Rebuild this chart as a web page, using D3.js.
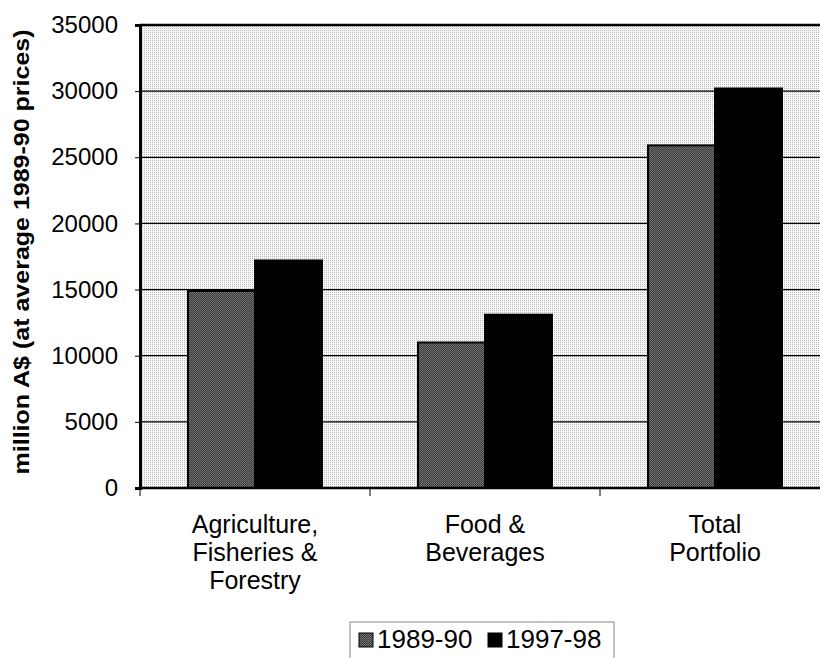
<!DOCTYPE html>
<meta charset="utf-8">
<script src="https://d3js.org/d3.v7.min.js"></script>
<style>
  body { margin: 0; background: #fff; }
  text { font-family: Arial, "Liberation Sans", sans-serif; }
</style>
<div id="my_dataviz"></div>
<script>
  // data
  var categories = [["Agriculture,", "Fisheries &", "Forestry"], ["Food &", "Beverages"], ["Total", "Portfolio"]];
  var seriesNames = ["1989-90", "1997-98"];
  var values8990 = [14900, 11000, 25900];
  var values9798 = [17200, 13100, 30200];
  var yTicks = [0, 5000, 10000, 15000, 20000, 25000, 30000, 35000];

  var W = 820, H = 658;
  var plotLeft = 140, plotTop = 25, plotRight = 830, plotBottom = 488;

  var svg = d3.select("#my_dataviz")
    .append("svg")
    .attr("width", W)
    .attr("height", H);

  // halftone-like patterns
  var defs = svg.append("defs");
  var bg = defs.append("pattern").attr("id", "bgdots")
    .attr("width", 2).attr("height", 2).attr("patternUnits", "userSpaceOnUse");
  bg.append("rect").attr("width", 2).attr("height", 2).attr("fill", "#f6f6f6");
  bg.append("rect").attr("width", 1).attr("height", 1).attr("fill", "#bcbcbc");

  var gp = defs.append("pattern").attr("id", "graydots")
    .attr("width", 2).attr("height", 2).attr("patternUnits", "userSpaceOnUse");
  gp.append("rect").attr("width", 2).attr("height", 2).attr("fill", "#3a3a3a");
  gp.append("rect").attr("width", 1).attr("height", 1).attr("fill", "#7a7a7a");
  gp.append("rect").attr("x", 1).attr("y", 1).attr("width", 1).attr("height", 1).attr("fill", "#6a6a6a");

  var data = categories.map(function(c, i) {
    return { cat: i, vals: [values8990[i], values9798[i]] };
  });

  var x0 = d3.scaleBand()
    .domain(d3.range(categories.length))
    .range([plotLeft, plotRight]);

  var x1 = d3.scaleBand()
    .domain([0, 1])
    .range([48, x0.bandwidth() - 48]);

  var y = d3.scaleLinear()
    .domain([0, 35000])
    .range([plotBottom, plotTop]);

  // plot background
  svg.append("rect")
    .attr("x", plotLeft).attr("y", plotTop)
    .attr("width", plotRight - plotLeft).attr("height", plotBottom - plotTop)
    .attr("fill", "url(#bgdots)");

  // gridlines
  svg.append("g")
    .selectAll("line")
    .data(yTicks.slice(1))
    .join("line")
    .attr("x1", plotLeft).attr("x2", plotRight)
    .attr("y1", function(d) { return y(d); })
    .attr("y2", function(d) { return y(d); })
    .attr("stroke", "#000")
    .attr("stroke-width", function(d) { return d === 35000 ? 2.5 : 1.2; });

  // bars
  var colors = ["url(#graydots)", "#000"];
  svg.append("g")
    .selectAll("g")
    .data(data)
    .join("g")
    .attr("transform", function(d) { return "translate(" + x0(d.cat) + ",0)"; })
    .selectAll("rect")
    .data(function(d) { return d.vals.map(function(v, j) { return { j: j, v: v }; }); })
    .join("rect")
    .attr("x", function(d) { return x1(d.j); })
    .attr("width", x1.bandwidth())
    .attr("y", function(d) { return y(d.v); })
    .attr("height", function(d) { return y(0) - y(d.v); })
    .attr("fill", function(d) { return colors[d.j]; })
    .attr("stroke", "#000")
    .attr("stroke-width", 2);

  // y axis
  var yAxis = svg.append("g")
    .attr("transform", "translate(" + plotLeft + ",0)")
    .call(d3.axisLeft(y).tickValues(yTicks).tickSize(5).tickPadding(17).tickFormat(d3.format("d")));
  yAxis.select(".domain").attr("stroke-width", 3);
  yAxis.selectAll("text").attr("font-size", 24).attr("fill", "#000")
    .style("font-family", "Arial, 'Liberation Sans', sans-serif");

  // x axis
  var xAxis = svg.append("g")
    .attr("transform", "translate(0," + plotBottom + ")");
  xAxis.append("line")
    .attr("x1", plotLeft).attr("x2", plotRight)
    .attr("y1", 0).attr("y2", 0)
    .attr("stroke", "#000").attr("stroke-width", 2.5);
  xAxis.selectAll("line.tick")
    .data(d3.range(categories.length))
    .join("line")
    .attr("class", "tick")
    .attr("x1", function(d) { return x0(d); })
    .attr("x2", function(d) { return x0(d); })
    .attr("y1", 0).attr("y2", 8)
    .attr("stroke", "#000").attr("stroke-width", 1);

  xAxis.selectAll("text.cat")
    .data(data)
    .join("text")
    .attr("class", "cat")
    .attr("text-anchor", "middle")
    .attr("font-size", 25)
    .attr("x", function(d) { return x0(d.cat) + x0.bandwidth() / 2; })
    .attr("y", 45)
    .selectAll("tspan")
    .data(function(d) { return categories[d.cat]; })
    .join("tspan")
    .attr("x", function() { return d3.select(this.parentNode).attr("x"); })
    .attr("dy", function(d, i) { return i === 0 ? 0 : 28; })
    .text(function(d) { return d; });

  // y title
  svg.append("text")
    .attr("transform", "translate(29,252) rotate(-90)")
    .attr("text-anchor", "middle")
    .attr("font-size", 22)
    .attr("font-weight", "bold")
    .attr("textLength", 445)
    .attr("lengthAdjust", "spacingAndGlyphs")
    .text("million A$ (at average 1989-90 prices)");

  // legend
  var legend = svg.append("g").attr("transform", "translate(350,622)");
  legend.append("rect")
    .attr("x", 0).attr("y", 0).attr("width", 264).attr("height", 40)
    .attr("fill", "#fff").attr("stroke", "#888").attr("stroke-width", 1);
  var legX = [9, 138];
  seriesNames.forEach(function(name, j) {
    legend.append("rect")
      .attr("x", legX[j]).attr("y", 11)
      .attr("width", 14).attr("height", 14)
      .attr("fill", colors[j]).attr("stroke", "#000").attr("stroke-width", 1);
    legend.append("text")
      .attr("x", legX[j] + 18).attr("y", 26)
      .attr("font-size", 26)
      .text(name);
  });
</script>
